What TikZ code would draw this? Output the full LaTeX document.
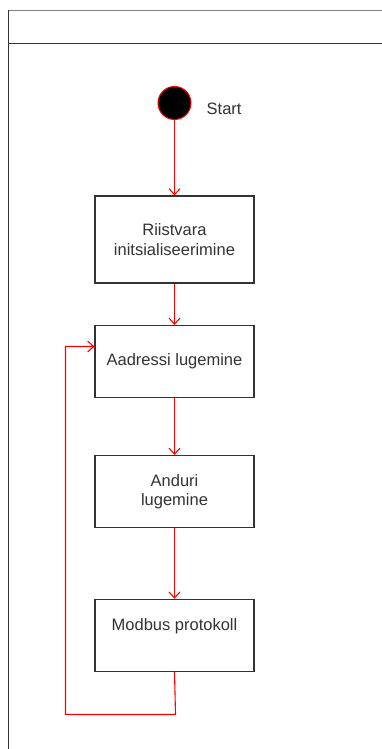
\documentclass[tikz,border=0pt]{standalone}
\usepackage{fontspec}
\setmainfont{Liberation Sans}
\usetikzlibrary{arrows.meta}
\definecolor{boxline}{HTML}{333333}
\definecolor{framegray}{HTML}{808080}
\definecolor{txt}{HTML}{333333}
\definecolor{flowred}{HTML}{FF0000}
\begin{document}
\begin{tikzpicture}[x=1pt,y=-1pt,
  lbl/.style={text=txt,font=\fontsize{16.5}{19.5}\selectfont},
  stepbox/.style={draw=boxline,line width=1.1pt,minimum width=159pt,inner sep=0pt,align=center,lbl},
  flow/.style={draw=flowred,line width=1.1pt,-{Straight Barb[length=6pt,width=11pt,line width=1.1pt]}},
  plain/.style={draw=flowred,line width=1.1pt}]
\useasboundingbox (0,0) rectangle (382,749);
\fill[white] (0,0) rectangle (382,749);
% frame
\draw[framegray,line width=1pt] (8,10.5) -- (382,10.5);
\draw[boxline,line width=1.5pt] (8,43.5) -- (382,43.5);
\draw[boxline,line width=1.2pt] (8.5,10) -- (8.5,749);
% start
\node[circle,fill=black,draw=flowred,line width=1pt,minimum size=33pt,inner sep=0pt] (s) at (174.5,103) {};
\node[anchor=base west,lbl,inner sep=0pt] (st) at (206.5,115) {Start};
% boxes
\node[stepbox,minimum height=87pt] (b1) at (174.5,239.5) {Riistvara\\initsialiseerimine};
\node[stepbox,minimum height=72pt] (b2) at (174.5,361.5) {Aadressi lugemine};
\node[stepbox,minimum height=72pt] (b3) at (174.5,491.5) {Anduri\\lugemine};
\node[stepbox,minimum height=72pt] (b4) at (174.5,635.3) {};
\node[anchor=base,lbl,inner sep=0pt] (b4t) at (174.5,630.7) {Modbus protokoll};
% connectors
\draw[flow] (s) -- (b1);
\draw[flow] (b1) -- (b2);
\draw[flow] (b2) -- (b3);
\draw[flow] (b3) -- (b4);
\coordinate (c1) at (175.5,714.5);
\coordinate (c2) at (65.5,714.5);
\coordinate (c3) at (65.5,346.5);
\coordinate (c4) at (b2.west |- c3);
\draw[plain] (b4.south) -- (c1) -- (c2) -- (c3) -- (c4);
\draw[flow] (c3) -- (c4);
\end{tikzpicture}
\end{document}
